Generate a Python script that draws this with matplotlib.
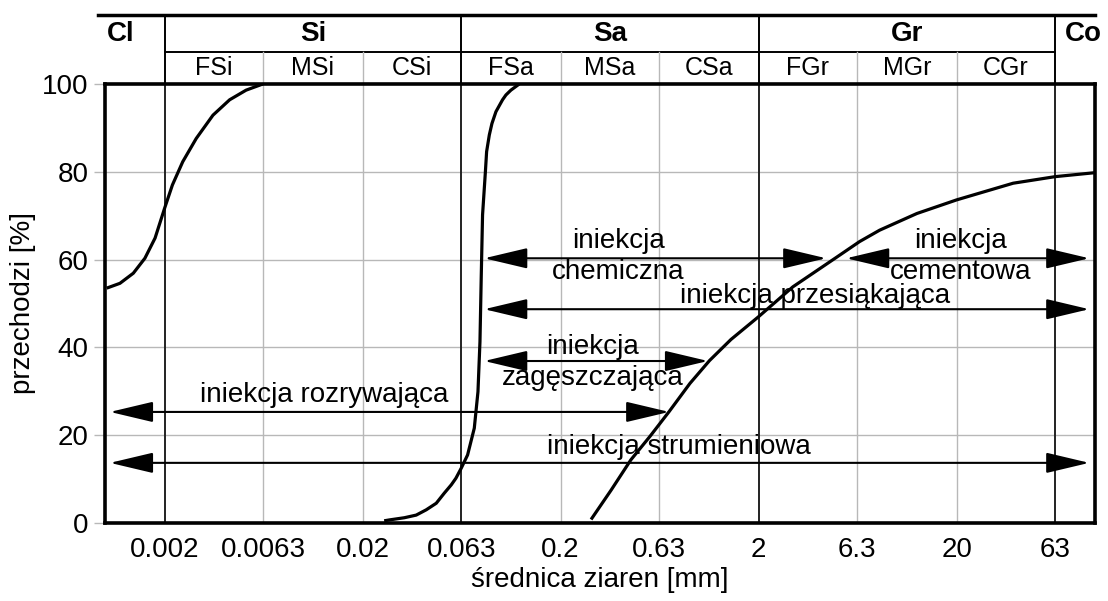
import numpy as np
import matplotlib
matplotlib.use("Agg")
import matplotlib.pyplot as plt

plt.rcParams['font.family'] = ['Liberation Sans', 'DejaVu Sans']

# grading curves: (grain size mm, passing %)
fine_x = [0.00102, 0.00119, 0.00139, 0.00159, 0.00179, 0.002, 0.00219, 0.00247,
          0.00289, 0.00351, 0.00426, 0.00516, 0.00627]
fine_y = [53.5, 54.6, 56.9, 60.3, 64.9, 71.7, 77.0, 82.3, 87.6, 92.9, 96.4, 98.6, 100]

sand_x = [0.0257, 0.0273, 0.0325, 0.0373, 0.0419, 0.0471, 0.0517, 0.0561, 0.0592,
          0.063, 0.0678, 0.0733, 0.0765, 0.0783, 0.0795, 0.0807, 0.0834, 0.0846,
          0.0873, 0.090, 0.0943, 0.1018, 0.1059, 0.1122, 0.1237]
sand_y = [0.5, 0.7, 1.2, 1.8, 3.0, 4.5, 6.8, 8.7, 10.2, 12.5, 15.5, 21.6, 29.9,
          41.3, 56.5, 70.2, 80.0, 84.6, 88.4, 91.0, 93.7, 96.4, 97.5, 98.6, 100]

gravel_x = [0.285, 0.36, 0.453, 0.567, 0.707, 0.9, 1.13, 1.45, 2.0, 2.98, 4.94,
            6.47, 8.17, 12.6, 20, 38.6, 63, 100]
gravel_y = [0.8, 7.5, 14.4, 19.8, 25.4, 31.8, 37.0, 41.8, 47.0, 53.8, 60.5,
            64.1, 66.7, 70.5, 73.6, 77.4, 78.9, 79.8]

# grouting ranges: x start, x end, level %
arrow_start = [0.0823, 5.54, 0.0823, 0.0823, 0.00106, 0.00106]
arrow_end = [4.39, 93.5, 93.5, 1.11, 0.707, 93.5]
arrow_level = [60.3, 60.3, 48.7, 36.9, 25.3, 13.7]

labels = ["iniekcja\nchemiczna", "iniekcja\ncementowa", "iniekcja przesiąkająca",
          "iniekcja\nzagęszczająca", "iniekcja rozrywająca", "iniekcja strumieniowa"]
label_x = [0.39, 21.0, 3.84, 0.29, 0.0128, 0.795]
label_y = [60.6, 60.6, 51.7, 36.6, 29.2, 17.3]

# soil fractions
main_bounds = [0.002, 0.063, 2, 63]
sub_bounds = [0.0063, 0.02, 0.2, 0.63, 6.3, 20]
edges = [0.002, 0.0063, 0.02, 0.063, 0.2, 0.63, 2, 6.3, 20, 63]
sub_names = ["FSi", "MSi", "CSi", "FSa", "MSa", "CSa", "FGr", "MGr", "CGr"]
main_names = ["Cl", "Si", "Sa", "Gr", "Co"]
main_x = [0.0012, np.sqrt(0.002 * 0.063), np.sqrt(0.063 * 2), np.sqrt(2 * 63), 87]

tick_vals = [0.002, 0.0063, 0.02, 0.063, 0.2, 0.63, 2, 6.3, 20, 63]
tick_text = ["0.002", "0.0063", "0.02", "0.063", "0.2", "0.63", "2", "6.3", "20", "63"]

fig = plt.figure(figsize=(11.08, 6.01), dpi=100)
ax = fig.add_axes([105 / 1108, 1 - 523 / 601, 990 / 1108, 439 / 601])
ax.set_xscale("log")
ax.set_xlim(0.001, 100)
ax.set_ylim(0, 100)

grey = "#b8b8b8"
for y in [20, 40, 60, 80]:
    ax.axhline(y, color=grey, lw=1, zorder=1)
for x in sub_bounds:
    ax.axvline(x, color=grey, lw=1, zorder=1)
for x in main_bounds:
    ax.axvline(x, color="#222222", lw=1.4, zorder=1)

for xs, ys in [(fine_x, fine_y), (sand_x, sand_y), (gravel_x, gravel_y)]:
    ax.plot(xs, ys, color="black", lw=2.3, solid_capstyle="butt",
            solid_joinstyle="round", zorder=3)

for x0, x1, y in zip(arrow_start, arrow_end, arrow_level):
    ax.annotate("", xy=(x1, y), xytext=(x0, y),
                arrowprops=dict(arrowstyle="<|-|>,head_length=1.35,head_width=0.32",
                                mutation_scale=20, color="black", lw=1.5,
                                shrinkA=0, shrinkB=0), zorder=4)

for t, x, y in zip(labels, label_x, label_y):
    ax.text(x, y, t, ha="center", va="center", fontsize=20,
            linespacing=1.25, zorder=5)

# header table above the plot
top, mid = 115.7, 107.3
ax.plot([0.00092, 100], [top, top], color="black", lw=2.5, clip_on=False)
ax.plot([0.002, 63], [mid, mid], color="black", lw=1.4, clip_on=False)
for x in main_bounds:
    ax.plot([x, x], [100, top], color="black", lw=1.4, clip_on=False)
for x in sub_bounds:
    ax.plot([x, x], [100, mid], color=grey, lw=1, clip_on=False)
for name, x in zip(main_names, main_x):
    ax.text(x, (top + mid) / 2, name, ha="center", va="center",
            fontsize=20, fontweight="bold", clip_on=False)
for i, name in enumerate(sub_names):
    cx = np.sqrt(edges[i] * edges[i + 1])
    ax.text(cx, (mid + 100) / 2, name, ha="center", va="center",
            fontsize=18, clip_on=False)

for s in ax.spines.values():
    s.set_linewidth(2.6)

ax.set_xticks(tick_vals)
ax.set_xticklabels(tick_text)
ax.xaxis.set_minor_locator(matplotlib.ticker.NullLocator())
ax.tick_params(axis="x", length=0, pad=10, labelsize=20)
ax.set_yticks([0, 20, 40, 60, 80, 100])
ax.tick_params(axis="y", length=8, width=1, color=grey, pad=4, labelsize=20)

ax.set_xlabel("średnica ziaren [mm]", fontsize=20)
ax.set_ylabel("przechodzi [%]", fontsize=20)
ax.xaxis.set_label_coords(0.5, -0.1)
ax.yaxis.set_label_coords(-0.07, 0.5)

fig.savefig("out.png", dpi=100)
